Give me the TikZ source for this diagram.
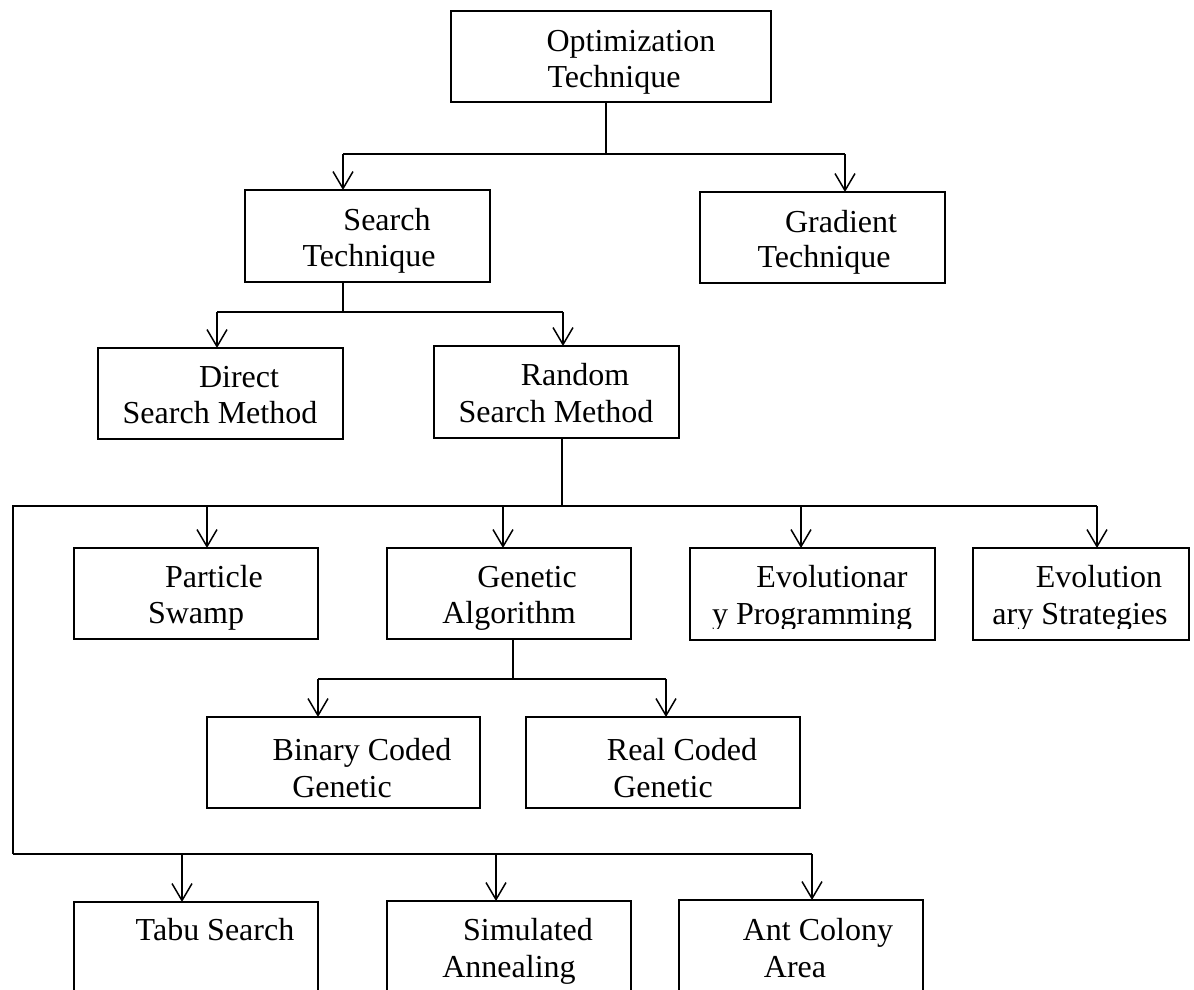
\documentclass[tikz,border=0pt]{standalone}
\usepackage{fontspec}
\setmainfont{Liberation Serif}
\usetikzlibrary{arrows.meta}
\begin{document}
\begin{tikzpicture}[x=1pt,y=-1pt,
  box/.style={draw, line width=1.6pt, inner sep=0pt, outer sep=0pt, rectangle},
  lbl/.style={anchor=base, inner sep=0pt, font=\fontsize{32}{37}\selectfont},
  conn/.style={line width=1.6pt},
  arr/.style={line width=1.5pt, -{Straight Barb[length=17pt,width=20pt]}}]
\useasboundingbox (0,0) rectangle (1194,989);
\fill[white] (0,0) rectangle (1194,989);

% boxes
\node[box, minimum width=320pt, minimum height=91pt] (opt) at (611,56.5) {};
\node[box, minimum width=245pt, minimum height=92pt] (search) at (367.5,236) {};
\node[box, minimum width=245pt, minimum height=91pt] (grad) at (822.5,237.5) {};
\node[box, minimum width=245pt, minimum height=91pt] (direct) at (220.5,393.5) {};
\node[box, minimum width=245pt, minimum height=92pt] (random) at (556.5,392) {};
\node[box, minimum width=244pt, minimum height=91pt] (particle) at (196,593.5) {};
\node[box, minimum width=244pt, minimum height=91pt] (genetic) at (509,593.5) {};
\node[box, minimum width=245pt, minimum height=92pt] (evprog) at (812.5,594) {};
\node[box, minimum width=216pt, minimum height=92pt] (evstrat) at (1081,594) {};
\node[box, minimum width=273pt, minimum height=91pt] (binary) at (343.5,762.5) {};
\node[box, minimum width=274pt, minimum height=91pt] (real) at (663,762.5) {};
\node[box, minimum width=244pt, minimum height=98pt] (tabu) at (196,951) {};
\node[box, minimum width=244pt, minimum height=99pt] (sim) at (509,950.5) {};
\node[box, minimum width=244pt, minimum height=100pt] (ant) at (801,950) {};

% labels
\node[lbl] (topt1) at (631,51) {Optimization};
\node[lbl] (topt2) at (614,87) {Technique};
\node[lbl] (tsea1) at (387,230) {Search};
\node[lbl] (tsea2) at (369,266) {Technique};
\node[lbl] (tgra1) at (841,232) {Gradient};
\node[lbl] (tgra2) at (824,267) {Technique};
\node[lbl] (tdir1) at (239,387) {Direct};
\node[lbl] (tdir2) at (220,423) {Search Method};
\node[lbl] (tran1) at (575,385) {Random};
\node[lbl] (tran2) at (556,422) {Search Method};
\node[lbl] (tpar1) at (214,587) {Particle};
\node[lbl] (tpar2) at (196,623) {Swamp};
\node[lbl] (tgen1) at (527,587) {Genetic};
\node[lbl] (tgen2) at (509,623) {Algorithm};
\node[lbl] (tevp1) at (832,587) {Evolutionar};
\node[lbl] (tevs1) at (1099,587) {Evolution};
\begin{scope}
  \clip (690,548) rectangle (1189,628);
  \node[lbl] (tevp2) at (812,624) {y Programming};
  \node[lbl] (tevs2) at (1080,624) {ary Strategies};
\end{scope}
\node[lbl] (tbin1) at (362,760) {Binary Coded};
\node[lbl] (tbin2) at (342,797) {Genetic};
\node[lbl] (trea1) at (682,760) {Real Coded};
\node[lbl] (trea2) at (663,797) {Genetic};
\node[lbl] (ttab1) at (215,940) {Tabu Search};
\node[lbl] (tsim1) at (528,940) {Simulated};
\node[lbl] (tsim2) at (509,977) {Annealing};
\node[lbl] (tant1) at (818,940) {Ant Colony};
\node[lbl] (tant2) at (795,977) {Area};

% junction coordinates
\coordinate (j1) at (606,154);
\coordinate (s1) at (343,154);
\coordinate (g1) at (845,154);
\coordinate (j2) at (343,312);
\coordinate (d2) at (217,312);
\coordinate (r2) at (563,312);
\coordinate (j3) at (562,506);
\coordinate (p3) at (207,506);
\coordinate (ge3) at (503,506);
\coordinate (ep3) at (801,506);
\coordinate (es3) at (1097,506);
\coordinate (L1) at (13,506);
\coordinate (L2) at (13,854);
\coordinate (tb3) at (182,854);
\coordinate (sm3) at (496,854);
\coordinate (an3) at (812,854);
\coordinate (j4) at (513,679);
\coordinate (b4) at (318,679);
\coordinate (re4) at (666,679);

% connectors: optimization
\draw[conn] (opt.south -| j1) -- (j1);
\draw[conn] (s1) -- (g1);
\draw[arr] (s1) -- (search.north -| s1);
\draw[arr] (g1) -- (grad.north -| g1);
% search
\draw[conn] (search.south -| j2) -- (j2);
\draw[conn] (d2) -- (r2);
\draw[arr] (d2) -- (direct.north -| d2);
\draw[arr] (r2) -- (random.north -| r2);
% random
\draw[conn] (random.south -| j3) -- (j3);
\draw[conn] (L2) -- (L1) -- (es3);
\draw[arr] (p3) -- (particle.north -| p3);
\draw[arr] (ge3) -- (genetic.north -| ge3);
\draw[arr] (ep3) -- (evprog.north -| ep3);
\draw[arr] (es3) -- (evstrat.north -| es3);
\draw[conn] (L2) -- (an3);
\draw[arr] (tb3) -- (tabu.north -| tb3);
\draw[arr] (sm3) -- (sim.north -| sm3);
\draw[arr] (an3) -- (ant.north -| an3);
% genetic
\draw[conn] (genetic.south -| j4) -- (j4);
\draw[conn] (b4) -- (re4);
\draw[arr] (b4) -- (binary.north -| b4);
\draw[arr] (re4) -- (real.north -| re4);
\end{tikzpicture}
\end{document}
